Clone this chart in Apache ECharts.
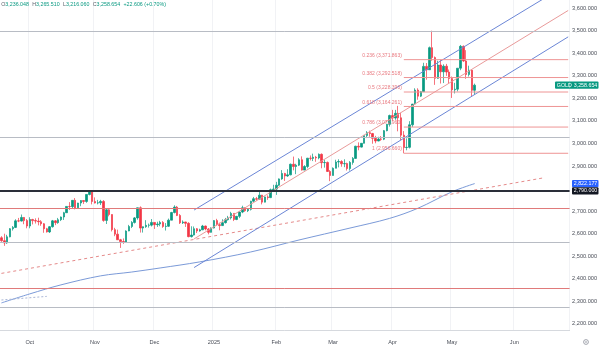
<!DOCTYPE html>
<html><head><meta charset="utf-8">
<script src="https://cdn.jsdelivr.net/npm/echarts@6/dist/echarts.min.js"></script>
<style>html,body{margin:0;padding:0;background:#fff}#c{width:600px;height:348px}</style>
</head><body><div id="c"></div>
<script>
// ---------- DATA ----------
const dates = [
'2024-09-17','2024-09-18','2024-09-19','2024-09-20','2024-09-23','2024-09-24','2024-09-25','2024-09-26','2024-09-27','2024-09-30',
'2024-10-01','2024-10-02','2024-10-03','2024-10-04','2024-10-07','2024-10-08','2024-10-09','2024-10-10','2024-10-11','2024-10-14','2024-10-15','2024-10-16','2024-10-17','2024-10-18','2024-10-21','2024-10-22','2024-10-23','2024-10-24','2024-10-25','2024-10-28','2024-10-29','2024-10-30','2024-10-31',
'2024-11-01','2024-11-04','2024-11-05','2024-11-06','2024-11-07','2024-11-08','2024-11-11','2024-11-12','2024-11-13','2024-11-14','2024-11-15','2024-11-18','2024-11-19','2024-11-20','2024-11-21','2024-11-22','2024-11-25','2024-11-26','2024-11-27','2024-11-28','2024-11-29',
'2024-12-02','2024-12-03','2024-12-04','2024-12-05','2024-12-06','2024-12-09','2024-12-10','2024-12-11','2024-12-12','2024-12-13','2024-12-16','2024-12-17','2024-12-18','2024-12-19','2024-12-20','2024-12-23','2024-12-24','2024-12-26','2024-12-27','2024-12-30','2024-12-31',
'2025-01-02','2025-01-03','2025-01-06','2025-01-07','2025-01-08','2025-01-09','2025-01-10','2025-01-13','2025-01-14','2025-01-15','2025-01-16','2025-01-17','2025-01-20','2025-01-21','2025-01-22','2025-01-23','2025-01-24','2025-01-27','2025-01-28','2025-01-29','2025-01-30','2025-01-31',
'2025-02-03','2025-02-04','2025-02-05','2025-02-06','2025-02-07','2025-02-10','2025-02-11','2025-02-12','2025-02-13','2025-02-14','2025-02-17','2025-02-18','2025-02-19','2025-02-20','2025-02-21','2025-02-24','2025-02-25','2025-02-26','2025-02-27','2025-02-28',
'2025-03-03','2025-03-04','2025-03-05','2025-03-06','2025-03-07','2025-03-10','2025-03-11','2025-03-12','2025-03-13','2025-03-14','2025-03-17','2025-03-18','2025-03-19','2025-03-20','2025-03-21','2025-03-24','2025-03-25','2025-03-26','2025-03-27','2025-03-28','2025-03-31',
'2025-04-01','2025-04-02','2025-04-03','2025-04-04','2025-04-07','2025-04-08','2025-04-09','2025-04-10','2025-04-11','2025-04-14','2025-04-15','2025-04-16','2025-04-17','2025-04-21','2025-04-22','2025-04-23','2025-04-24','2025-04-25','2025-04-28','2025-04-29','2025-04-30',
'2025-05-01','2025-05-02','2025-05-05','2025-05-06','2025-05-07','2025-05-08','2025-05-09','2025-05-12','2025-05-13'];
const futureDates = ['2025-05-14','2025-05-15','2025-05-16','2025-05-19','2025-05-20','2025-05-21','2025-05-22','2025-05-23','2025-05-26','2025-05-27','2025-05-28','2025-05-29','2025-05-30',
'2025-06-02','2025-06-03','2025-06-04','2025-06-05','2025-06-06','2025-06-09','2025-06-10','2025-06-11','2025-06-12','2025-06-13','2025-06-16','2025-06-17','2025-06-18','2025-06-19','2025-06-20','2025-06-23','2025-06-24','2025-06-25','2025-06-26','2025-06-27'];
const opens = [2582,2569,2559,2586,2622,2628,2657,2656,2672,2658,
2634,2663,2658,2656,2653,2644,2622,2608,2631,2657,2649,2662,2674,2693,2721,2720,2748,2715,2736,2747,2743,2774,2788,
2743,2736,2737,2743,2659,2706,2685,2618,2598,2573,2565,2563,2612,2632,2650,2670,2715,2625,2631,2637,2638,
2650,2640,2643,2650,2632,2633,2660,2694,2718,2681,2648,2652,2646,2587,2594,2622,2612,2617,2634,2621,2606,
2625,2658,2640,2636,2649,2662,2670,2690,2663,2677,2696,2715,2702,2708,2744,2755,2753,2771,2740,2763,2760,2795,
2798,2815,2843,2867,2856,2861,2908,2898,2904,2928,2882,2898,2935,2934,2939,2936,2952,2915,2916,2876,
2858,2890,2918,2920,2910,2911,2889,2916,2934,2988,2984,3001,3035,3048,3044,3023,3011,3020,3019,3057,3085,
3124,3113,3134,3114,3037,2982,2983,3083,3175,3237,3210,3230,3342,3327,3425,3381,3289,3348,3318,3343,3317,
3288,3238,3241,3334,3431,3366,3306,3325,3236.048];
const highs = [2589,2600,2595,2625,2634,2664,2670,2685,2674,2665,
2673,2666,2668,2671,2660,2647,2626,2634,2661,2660,2670,2676,2697,2722,2740,2749,2758,2737,2749,2748,2775,2790,2790,
2761,2750,2750,2749,2710,2709,2686,2626,2618,2577,2579,2615,2639,2656,2674,2716,2721,2632,2660,2645,2665,
2651,2653,2657,2656,2647,2667,2697,2726,2723,2687,2659,2653,2651,2633,2632,2625,2622,2639,2636,2625,2628,
2660,2666,2649,2664,2670,2679,2697,2690,2679,2699,2724,2717,2711,2746,2763,2763,2786,2772,2765,2770,2800,2817,
2830,2845,2882,2870,2886,2911,2942,2910,2935,2943,2904,2936,2947,2955,2945,2956,2956,2928,2920,2882,
2894,2928,2930,2926,2930,2915,2922,2940,2990,3005,3002,3038,3055,3057,3047,3034,3030,3033,3060,3087,3128,
3149,3149,3167,3136,3055,3023,3099,3175,3245,3245,3233,3358,3357,3430,3500.12,3386,3367,3371,3351,3353,3328,
3297,3269,3334,3437,3435,3414,3345,3326,3265.51];
const lows = [2564,2546,2555,2584,2614,2625,2651,2654,2642,2624,
2624,2641,2645,2637,2635,2604,2605,2603,2627,2638,2644,2656,2661,2692,2705,2713,2708,2715,2722,2732,2737,2770,2730,
2734,2730,2727,2653,2643,2677,2610,2589,2572,2537,2555,2561,2611,2625,2645,2662,2605,2605,2626,2627,2632,
2621,2630,2633,2626,2614,2630,2660,2690,2678,2643,2643,2630,2584,2583,2592,2603,2609,2616,2615,2597,2605,
2623,2635,2615,2634,2645,2658,2663,2656,2660,2669,2691,2697,2696,2703,2741,2746,2752,2730,2739,2750,2758,2790,
2772,2812,2839,2834,2852,2859,2881,2864,2900,2880,2882,2890,2925,2922,2919,2930,2890,2893,2874,2833,
2858,2890,2894,2897,2895,2880,2880,2906,2932,2970,2982,3000,3024,3030,2999,3001,3010,3012,3015,3054,3075,
3100,3105,3054,3015,2956.66,2970,2978,3073,3174,3194,3206,3229,3283,3326,3367,3260,3287,3266,3268,3300,3268,
3202,3222,3231,3325,3362,3287,3297,3208,3216.06];
const closes = [2569,2559,2586,2622,2628,2657,2656,2672,2658,2634,
2663,2658,2656,2653,2644,2622,2608,2631,2657,2649,2662,2674,2693,2721,2720,2748,2715,2736,2747,2743,2774,2788,2743,
2736,2737,2743,2659,2706,2685,2618,2598,2573,2565,2563,2612,2632,2650,2670,2715,2625,2631,2637,2638,2650,
2640,2643,2650,2632,2633,2660,2694,2718,2681,2648,2652,2646,2587,2594,2622,2612,2617,2634,2621,2606,2625,
2658,2640,2636,2649,2662,2670,2690,2663,2677,2696,2715,2702,2708,2744,2755,2753,2771,2740,2763,2760,2795,2798,
2815,2843,2867,2856,2861,2908,2898,2904,2928,2882,2898,2935,2934,2939,2936,2952,2915,2916,2876,2858,
2890,2918,2920,2910,2911,2889,2916,2934,2988,2984,3001,3035,3048,3044,3023,3011,3020,3019,3057,3085,3124,
3113,3134,3114,3037,2982,2983,3083,3175,3237,3210,3230,3342,3327,3425,3381,3289,3348,3318,3343,3317,3288,
3238,3241,3334,3431,3366,3306,3325,3236.048,3258.654];

const symbolName = 'GOLD';
const monthLabels = {'2024-10-01':'Oct','2024-11-01':'Nov','2024-12-02':'Dec','2025-01-02':'2025','2025-02-03':'Feb','2025-03-03':'Mar','2025-04-01':'Apr','2025-05-01':'May','2025-06-02':'Jun'};
const priceTicks = [2200,2300,2400,2500,2600,2700,2900,3000,3100,3200,3300,3400,3500,3600];

const grayLevels = [3500, 3026, 2562, 2274];
const redLevels = [2714, 2358];
const keyLevel = 2790;

const fibLowPrice = 2956.66, fibHighPrice = 3500.119, fibStartDate = '2025-04-07';
const fibRatios = [0.236, 0.382, 0.5, 0.618, 0.786, 1];

const channelDates = ['2024-12-20', '2025-06-27'];
const channelUpper = [2705, 3708];
const channelMiddle = [2577, 3590];
const channelLower = [2450, 3473];

const trendDates = ['2024-09-17', '2025-06-16'];
const trendValues = [2424, 2847];

const maDates = ['2024-09-17','2024-10-01','2024-10-16','2024-11-05','2024-11-20','2024-12-04','2024-12-24','2025-01-21','2025-02-13','2025-03-11','2025-03-31','2025-04-14','2025-05-01','2025-05-13'];
const maValues = [2293,2333,2373,2413,2430,2448,2475,2519,2572,2625,2668,2713,2786,2822.177];

const dotDates = ['2024-09-17','2024-10-09'];
const dotValues = [2306, 2322];

// ---------- CHART ----------
const allDates = dates.concat(futureDates);
const lastDate = allDates[allDates.length - 1];
const fmt = v => v.toLocaleString('en-US', {minimumFractionDigits: 3, maximumFractionDigits: 3});
const FONT = '"Liberation Sans", Arial, sans-serif';
const UP = '#089981', DOWN = '#f23645';

const fibLevels = fibRatios.map(r => fibHighPrice - r * (fibHighPrice - fibLowPrice));

const seg = (xs, ys, color, extra) => Object.assign({
  type: 'line', data: xs.map((x, i) => [x, ys[i]]), symbol: 'none', silent: true,
  lineStyle: Object.assign({color: color, width: 1}, (extra && extra.ls) || {}), z: 4
}, (extra && extra.s) || {});

const series = [
  {
    type: 'candlestick',
    data: dates.map((d, i) => [opens[i], closes[i], lows[i], highs[i]]),
    barWidth: 2,
    itemStyle: {color: UP, color0: DOWN, borderColor: UP, borderColor0: DOWN, borderWidth: 0.7},
    z: 3,
    markLine: {
      symbol: 'none', silent: true, label: {show: false}, animation: false,
      data: grayLevels.map(v => ({yAxis: v, lineStyle: {color: '#b8bcc4', width: 1, type: 'solid'}}))
        .concat(redLevels.map(v => ({yAxis: v, lineStyle: {color: '#e07a7a', width: 1, type: 'solid'}})))
        .concat([{yAxis: keyLevel, lineStyle: {color: '#2a2e39', width: 2, type: 'solid'}}])
    }
  },
  seg(maDates, maValues, '#7b9ad8', {s: {smooth: 0.35}}),
  seg(dotDates, dotValues, '#a9b6d6', {ls: {type: [2, 2]}}),
  seg(trendDates, trendValues, '#e58a8a', {ls: {type: [3, 3]}}),
  seg(channelDates, channelUpper, '#6b86d6'),
  seg(channelDates, channelMiddle, '#e99a9a'),
  seg(channelDates, channelLower, '#6b86d6')
];
fibLevels.forEach(v => series.push(seg([fibStartDate, lastDate], [v, v], '#ee9494')));

const chart = echarts.init(document.getElementById('c'), null, {renderer: 'canvas'});
chart.setOption({
  animation: false,
  backgroundColor: '#ffffff',
  grid: {left: -1.38, right: 29.4, top: 0, bottom: 17.5},
  xAxis: {
    type: 'category', data: allDates, boundaryGap: true,
    axisLine: {show: true, lineStyle: {color: '#d6d9de', width: 1}},
    axisTick: {show: false},
    axisLabel: {
      interval: (i, v) => !!monthLabels[v],
      formatter: v => monthLabels[v] || '',
      color: '#4a4e58', fontSize: 5.6, fontFamily: FONT, margin: 9
    },
    splitLine: {show: true, interval: (i, v) => !!monthLabels[v], lineStyle: {color: '#f1f2f5', width: 1}}
  },
  yAxis: {
    type: 'value', position: 'right', min: 2170.7, max: 3636.4, scale: true,
    axisLine: {show: false}, axisTick: {show: false}, splitLine: {show: false},
    axisLabel: {
      customValues: priceTicks, formatter: v => fmt(v), align: 'right', margin: 27.4,
      color: '#4a4e58', fontSize: 5.6, fontFamily: FONT
    }
  },
  series: series
});

// Overlays positioned through the chart's own scales
const px = (d, v) => chart.convertToPixel({xAxisIndex: 0, yAxisIndex: 0}, [d, v]);
const yOf = v => chart.convertToPixel({yAxisIndex: 0}, v);
const graphics = [];
fibRatios.forEach((r, i) => {
  const p = px(fibStartDate, fibLevels[i]);
  graphics.push({type: 'text', x: p[0] - 2, y: p[1] - 4.2, z: 20,
    style: {text: r + ' (' + fmt(fibLevels[i]) + ')', fill: '#e8787f', font: '5px ' + FONT, textAlign: 'right', textVerticalAlign: 'middle'}});
});
function tag(value, text, bg, x0, x1) {
  const y = yOf(value);
  graphics.push({type: 'rect', z: 30, shape: {x: x0, y: y - 3.6, width: x1 - x0, height: 7.2, r: 1}, style: {fill: bg}});
  graphics.push({type: 'text', z: 31, x: x1 - 1.2, y: y, style: {text: text, fill: '#fff', font: '5.3px ' + FONT, textAlign: 'right', textVerticalAlign: 'middle'}});
}
const lastClose = closes[closes.length - 1];
tag(lastClose, fmt(lastClose), UP, 555, 598.5);
graphics.push({type: 'text', z: 31, x: 556.8, y: yOf(lastClose), style: {text: symbolName, fill: '#fff', font: '5.3px ' + FONT, textAlign: 'left', textVerticalAlign: 'middle'}});
graphics.push({type: 'rect', z: 31, shape: {x: 569.5, y: yOf(lastClose) - 2.6, width: 0.6, height: 5.2}, style: {fill: 'rgba(255,255,255,0.6)'}});
tag(maValues[maValues.length - 1], fmt(maValues[maValues.length - 1]), '#2962ff', 572, 598.5);
tag(keyLevel, fmt(keyLevel), '#131722', 572, 598.5);

// OHLC header
const n = closes.length;
const chg = closes[n - 1] - closes[n - 2];
const pct = chg / closes[n - 2] * 100;
const sgn = chg >= 0 ? '+' : '';
graphics.push({type: 'text', z: 40, x: 1.2, y: 4.3, style: {
  text: '{k|O}{v|' + fmt(opens[n - 1]) + '} {k|H}{v|' + fmt(highs[n - 1]) + '} {k|L}{v|' + fmt(lows[n - 1]) + '} {k|C}{v|' + fmt(closes[n - 1]) + '} {v|' + sgn + fmt(chg) + ' (' + sgn + pct.toFixed(2) + '%)}',
  textVerticalAlign: 'middle',
  rich: {k: {fill: '#5d606b', fontSize: 5.3, fontFamily: FONT}, v: {fill: UP, fontSize: 5.3, fontFamily: FONT}}
}});
// settings gear
graphics.push({type: 'circle', z: 40, shape: {cx: 586, cy: 342, r: 2.4}, style: {fill: 'none', stroke: '#8a8e99', lineWidth: 0.8}});
graphics.push({type: 'circle', z: 40, shape: {cx: 586, cy: 342, r: 0.8}, style: {fill: '#8a8e99'}});
chart.setOption({graphic: graphics});
</script>
</body></html>
